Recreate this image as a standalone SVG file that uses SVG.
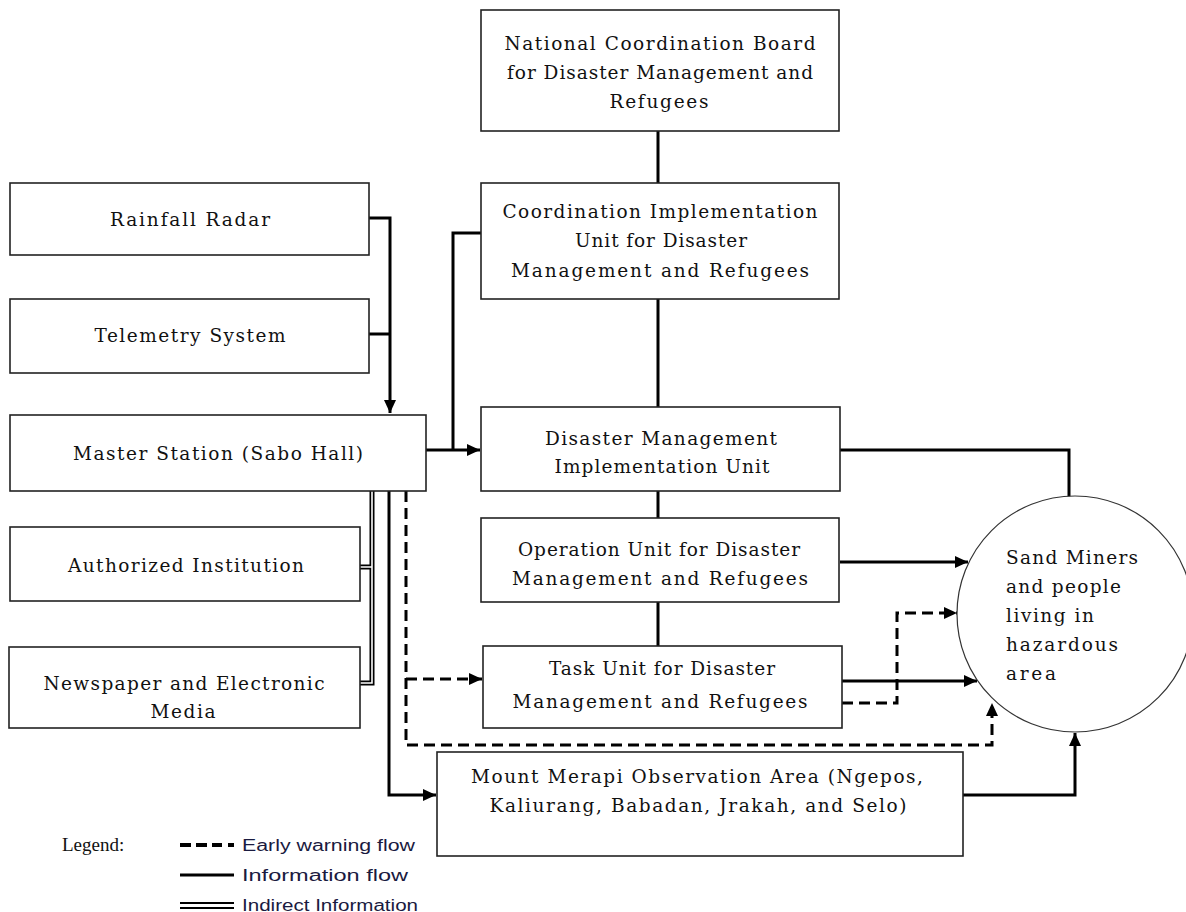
<svg xmlns="http://www.w3.org/2000/svg" width="1186" height="912" viewBox="0 0 1186 912">
<style>
.box{fill:#fff;stroke:#222;stroke-width:1.6}
.t{font-family:"DejaVu Serif",serif;font-size:18.5px;fill:#111;text-anchor:middle}
.tl{font-family:"DejaVu Serif",serif;font-size:18.5px;fill:#111}
.c{fill:none;stroke:#000;stroke-width:3}
.d{fill:none;stroke:#000;stroke-width:3;stroke-dasharray:11 6}
.lg{font-family:"Liberation Sans",sans-serif;font-size:16px;fill:#1a1a40}
.lgh{font-family:"Liberation Serif",serif;font-size:19px;fill:#111}
</style>
<defs>
<marker id="ar" markerUnits="userSpaceOnUse" markerWidth="14" markerHeight="12" refX="13" refY="6" orient="auto">
<path d="M0,0 L13,6 L0,12 z" fill="#000"/>
</marker>
</defs>
<rect width="1186" height="912" fill="#fff"/>

<g id="connectors">
<path class="c" d="M658,131 V183 M658,299 V407 M658,491 V518 M658,602 V646"/>
<path class="c" d="M369,218 H390 V413" marker-end="url(#ar)"/>
<path class="c" d="M369,334 H390"/>
<path class="c" d="M426,450 H480" marker-end="url(#ar)"/>
<path class="c" d="M481,233 H453 V450"/>
<path class="c" d="M389,491 V795 H436" marker-end="url(#ar)"/>
<path class="d" d="M406,491 V745 H992 V703" marker-end="url(#ar)"/>
<path class="d" d="M406,679 H482" marker-end="url(#ar)"/>
<path d="M372,491 V683 H360 M372,567 H360" fill="none" stroke="#000" stroke-width="5"/>
<path d="M372,491 V683 H360 M372,567 H360" fill="none" stroke="#fff" stroke-width="1.6"/>
<path class="c" d="M840,562 H968" marker-end="url(#ar)"/>
<path class="c" d="M842,681 H977" marker-end="url(#ar)"/>
<path class="d" d="M842,703 H897 V613 H957" marker-end="url(#ar)"/>
<path class="c" d="M840,450 H1069 V497"/>
<path class="c" d="M963,795 H1075 V733" marker-end="url(#ar)"/>
</g>

<g id="n-national"><rect class="box" x="481" y="10" width="358" height="121"/>
<text class="t" x="660" y="50" textLength="311" lengthAdjust="spacing">National Coordination Board</text>
<text class="t" x="660" y="79" textLength="306" lengthAdjust="spacing">for Disaster Management and</text>
<text class="t" x="659" y="108" textLength="99" lengthAdjust="spacing">Refugees</text></g>

<g id="n-coord"><rect class="box" x="481" y="183" width="358" height="116"/>
<text class="t" x="660" y="218" textLength="315" lengthAdjust="spacing">Coordination Implementation</text>
<text class="t" x="661" y="247" textLength="172" lengthAdjust="spacing">Unit for Disaster</text>
<text class="t" x="660" y="277" textLength="298" lengthAdjust="spacing">Management and Refugees</text></g>

<g id="n-dmiu"><rect class="box" x="481" y="407" width="359" height="84"/>
<text class="t" x="661" y="445" textLength="232" lengthAdjust="spacing">Disaster Management</text>
<text class="t" x="662" y="473" textLength="215" lengthAdjust="spacing">Implementation Unit</text></g>

<g id="n-operation"><rect class="box" x="481" y="518" width="358" height="84"/>
<text class="t" x="659" y="556" textLength="282" lengthAdjust="spacing">Operation Unit for Disaster</text>
<text class="t" x="660" y="585" textLength="296" lengthAdjust="spacing">Management and Refugees</text></g>

<g id="n-task"><rect class="box" x="483" y="646" width="359" height="82"/>
<text class="t" x="662" y="675" textLength="226" lengthAdjust="spacing">Task Unit for Disaster</text>
<text class="t" x="660" y="708" textLength="295" lengthAdjust="spacing">Management and Refugees</text></g>

<g id="n-merapi"><rect class="box" x="437" y="752" width="526" height="104"/>
<text class="t" x="697" y="783" textLength="452" lengthAdjust="spacing">Mount Merapi Observation Area (Ngepos,</text>
<text class="t" x="698" y="812" textLength="417" lengthAdjust="spacing">Kaliurang, Babadan, Jrakah, and Selo)</text></g>

<g id="n-rainfall"><rect class="box" x="10" y="183" width="359" height="72"/>
<text class="t" x="190" y="226" textLength="160" lengthAdjust="spacing">Rainfall Radar</text></g>

<g id="n-telemetry"><rect class="box" x="10" y="299" width="359" height="74"/>
<text class="t" x="190" y="342" textLength="191" lengthAdjust="spacing">Telemetry System</text></g>

<g id="n-master"><rect class="box" x="10" y="415" width="416" height="76"/>
<text class="t" x="218" y="460" textLength="290" lengthAdjust="spacing">Master Station (Sabo Hall)</text></g>

<g id="n-authorized"><rect class="box" x="10" y="527" width="350" height="74"/>
<text class="t" x="186" y="572" textLength="236" lengthAdjust="spacing">Authorized Institution</text></g>

<g id="n-newspaper"><rect class="box" x="9" y="647" width="351" height="81"/>
<text class="t" x="184" y="690" textLength="281" lengthAdjust="spacing">Newspaper and Electronic</text>
<text class="t" x="183" y="718" textLength="65" lengthAdjust="spacing">Media</text></g>

<g id="n-sand"><circle cx="1075" cy="614" r="118" fill="#fff" stroke="#333" stroke-width="1.2"/>
<text class="tl" x="1006" y="564" textLength="132" lengthAdjust="spacing">Sand Miners</text>
<text class="tl" x="1006" y="593" textLength="115" lengthAdjust="spacing">and people</text>
<text class="tl" x="1006" y="622" textLength="88" lengthAdjust="spacing">living in</text>
<text class="tl" x="1006" y="651" textLength="112" lengthAdjust="spacing">hazardous</text>
<text class="tl" x="1006" y="680" textLength="50" lengthAdjust="spacing">area</text></g>

<g id="legend">
<text class="lgh" x="62" y="851">Legend:</text>
<path d="M180,845 H222" stroke="#000" stroke-width="4" stroke-dasharray="11 5"/>
<path d="M228,845 H234" stroke="#000" stroke-width="4"/>
<path d="M180,875 H234" stroke="#000" stroke-width="3"/>
<path d="M180,903 H234 M180,908 H234" stroke="#000" stroke-width="2"/>
<text class="lg" x="242" y="851" textLength="173" lengthAdjust="spacingAndGlyphs">Early warning flow</text>
<text class="lg" x="242" y="881" textLength="166" lengthAdjust="spacingAndGlyphs">Information flow</text>
<text class="lg" x="242" y="911" textLength="176" lengthAdjust="spacingAndGlyphs">Indirect Information</text>
</g>
</svg>
